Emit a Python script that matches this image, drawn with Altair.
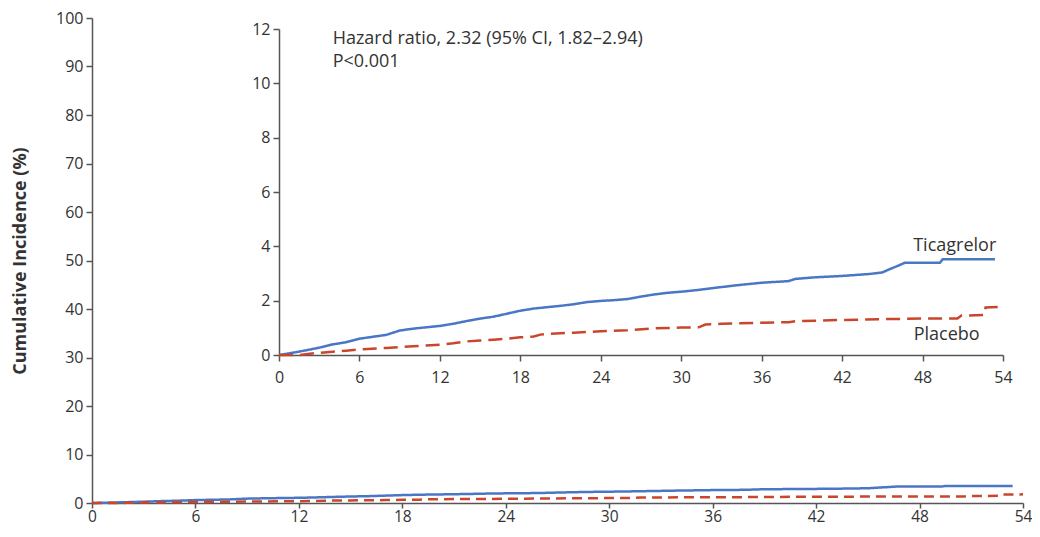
import altair as alt
import pandas as pd

# ---- data ----
tica_month = [0, 1, 2, 3, 4, 5, 6, 7, 8, 9, 10, 11, 12, 13, 14, 15, 16, 17, 18, 19, 20,
              21, 22, 23, 24, 25, 26, 27, 28, 29, 30, 31, 32, 33, 34, 35, 36, 37, 38,
              38.5, 40, 42, 44, 45.0, 45.5, 46.0, 46.7, 49.3, 49.5, 53.4]
tica_value = [0, 0.08, 0.17, 0.27, 0.39, 0.47, 0.60, 0.67, 0.74, 0.90, 0.97, 1.02, 1.07,
              1.15, 1.25, 1.34, 1.41, 1.52, 1.63, 1.71, 1.76, 1.81, 1.87, 1.95, 1.99,
              2.02, 2.06, 2.15, 2.23, 2.29, 2.33, 2.38, 2.44, 2.50, 2.56, 2.61, 2.66,
              2.69, 2.72, 2.80, 2.86, 2.91, 2.98, 3.04, 3.15, 3.25, 3.40, 3.40, 3.52, 3.52]

plac_month = [0, 1.5, 2, 3, 4, 5, 6, 8, 10, 12, 13, 14, 15, 16, 17, 18, 19, 19.5, 20, 22,
              24, 26, 28, 30, 31.3, 31.8, 33, 36, 38, 38.5, 42, 45, 48, 50.6, 50.9, 52.6,
              52.7, 54]
plac_value = [0, 0.0, 0.03, 0.08, 0.12, 0.16, 0.20, 0.26, 0.32, 0.38, 0.43, 0.50, 0.53,
              0.56, 0.60, 0.65, 0.68, 0.75, 0.78, 0.82, 0.87, 0.91, 0.98, 1.01, 1.02,
              1.12, 1.15, 1.19, 1.21, 1.24, 1.29, 1.32, 1.34, 1.34, 1.45, 1.47, 1.75, 1.78]

series_names = ["Ticagrelor", "Placebo"]
series_colors = ["#4a76c6", "#c9462c"]

main_x_ticks = [0, 6, 12, 18, 24, 30, 36, 42, 48, 54]
main_y_ticks = [0, 10, 20, 30, 40, 50, 60, 70, 80, 90, 100]
inset_y_ticks = [0, 2, 4, 6, 8, 10, 12]

label_text = ["Ticagrelor", "Placebo"]
label_month = [50.4, 49.8]
label_value = [4.0, 0.72]

stat_text = ["Hazard ratio, 2.32 (95% CI, 1.82\u20132.94)", "P<0.001"]
stat_month = [4.0, 4.0]
stat_value = [11.63, 10.79]

# ---- tables ----
df = pd.concat([
    pd.DataFrame({"month": tica_month, "value": tica_value, "series": "Ticagrelor", "order": range(len(tica_month))}),
    pd.DataFrame({"month": plac_month, "value": plac_value, "series": "Placebo", "order": range(len(plac_month))}),
])
labels_df = pd.DataFrame({"month": label_month, "value": label_value, "text": label_text})
stats_df = pd.DataFrame({"month": stat_month, "value": stat_value, "text": stat_text})

FONT = "Open Sans"
W, H = 931, 485
INSET_X = [187, 911]
INSET_Y = [337, 11]

axis_common = dict(
    grid=False, domainColor="#555555", domainWidth=1.5, tickColor="#555555",
    tickWidth=1.5, tickSize=6, labelFont=FONT, labelFontSize=16, labelColor="#333333",
    labelFlush=False, labelOverlap=False,
)

color = alt.Color("series:N", scale=alt.Scale(domain=series_names, range=series_colors), legend=None)

# ---- main panel ----
main = alt.Chart(df).mark_line(strokeWidth=2.5).encode(
    x=alt.X("month:Q", scale=alt.Scale(domain=[0, 54], nice=False),
            axis=alt.Axis(values=main_x_ticks, orient="bottom", labelPadding=1, title=None,
                          **{**axis_common, "tickSize": 5, "labelFontSize": 15.5})),
    y=alt.Y("value:Q", scale=alt.Scale(domain=[0, 100], nice=False),
            axis=alt.Axis(values=main_y_ticks, orient="left", labelPadding=3, **axis_common,
                          title="Cumulative Incidence (%)", titleFont=FONT, titleFontSize=18,
                          titleFontWeight="bold", titleColor="#333333", titlePadding=26)),
    color=color,
    strokeDash=alt.StrokeDash("series:N", scale=alt.Scale(domain=series_names, range=[[1, 0], [10, 6]]), legend=None),
    order="order:Q",
)

# ---- inset panel ----
def ix():
    return alt.X("month:Q", scale=alt.Scale(domain=[0, 54], range=INSET_X, nice=False),
                 axis=alt.Axis(values=main_x_ticks, orient="bottom", offset=-(H - INSET_Y[0]),
                               labelPadding=8, title=None, **axis_common))

def iy():
    return alt.Y("value:Q", scale=alt.Scale(domain=[0, 12], range=INSET_Y, nice=False),
                 axis=alt.Axis(values=inset_y_ticks, orient="left", offset=-INSET_X[0],
                               labelPadding=3, title=None, **axis_common))

inset_lines = alt.Chart(df).mark_line(strokeWidth=2.5).encode(
    x=ix(), y=iy(), color=color,
    strokeDash=alt.StrokeDash("series:N", scale=alt.Scale(domain=series_names, range=[[1, 0], [14, 7]]), legend=None),
    order="order:Q",
)
inset_labels = alt.Chart(labels_df).mark_text(font=FONT, fontSize=18, color="#333333", align="center",
                                              baseline="middle").encode(x=ix(), y=iy(), text="text:N")
inset_stats = alt.Chart(stats_df).mark_text(font=FONT, fontSize=18, color="#333333", align="left",
                                            baseline="middle").encode(x=ix(), y=iy(), text="text:N")

inset = alt.layer(inset_lines, inset_labels, inset_stats)

chart = alt.layer(main, inset).resolve_scale(
    x="independent", y="independent", color="shared", strokeDash="independent"
).properties(
    width=W, height=H,
    autosize=alt.AutoSizeParams(type="none"),
    padding={"left": 84, "top": 10, "right": 9, "bottom": 24},
).configure_view(stroke=None)

chart.save("out.html", embed_options={"renderer": "svg", "actions": False})
